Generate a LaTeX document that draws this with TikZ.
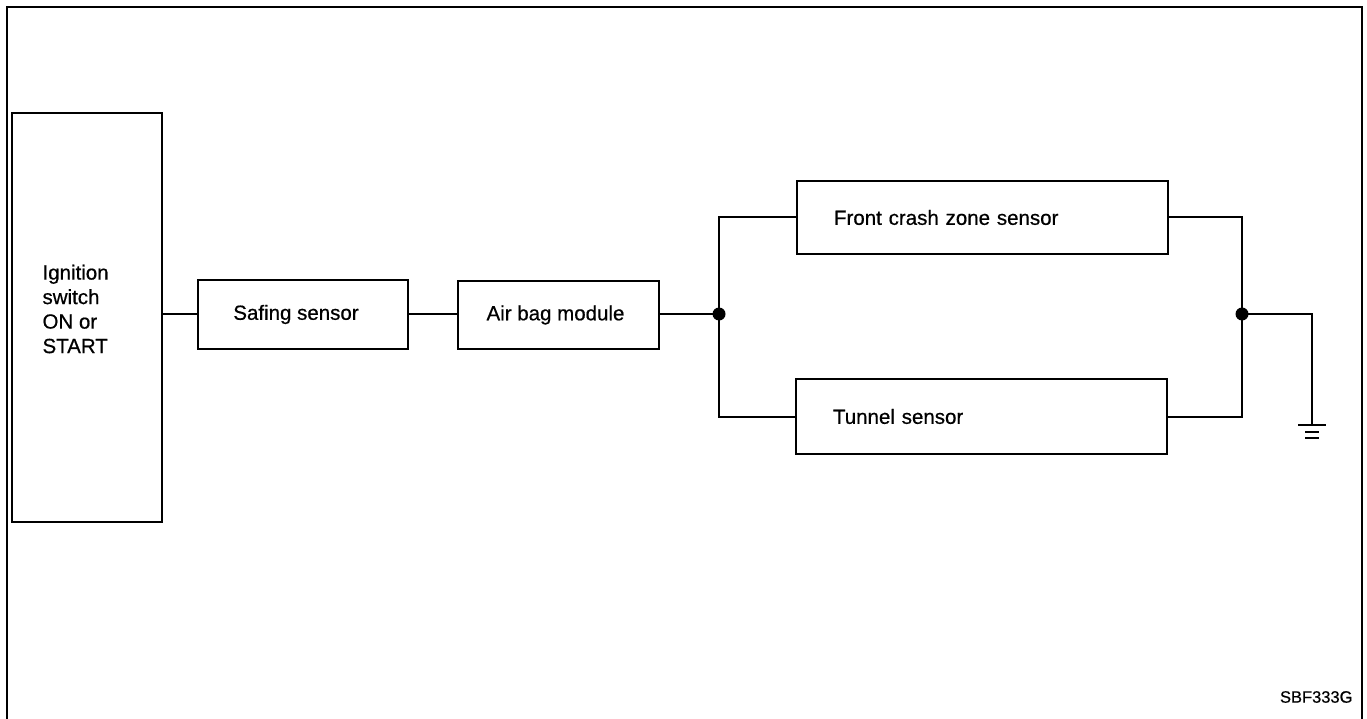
\documentclass[tikz,border=0pt]{standalone}
\usepackage{fontspec}
\setmainfont{Liberation Sans}[BoldFont={Liberation Sans},BoldFeatures={FakeBold=0.6}]
\begin{document}
\begin{tikzpicture}[x=1pt,y=-1pt,
  wire/.style={line width=2pt},
  lab/.style={font=\fontsize{20.5}{24.5}\selectfont\bfseries},
  blk/.style={draw,line width=2pt,inner sep=0pt,anchor=north west,lab},
  wblk/.style={blk,inner xsep=37pt,text width=297pt,align=left},
  dot/.style={circle,fill=black,inner sep=0pt,minimum size=13pt}]
\useasboundingbox (0,0) rectangle (1367,719);
% frame (open at bottom)
\draw[line width=2.2pt] (7,725) -- (7,7) -- (1362,7) -- (1362,725);
% blocks
\node[blk,minimum width=150pt,minimum height=409pt] (ign) at (11,112) {};
\node[lab,align=left,anchor=west] (igntext) at (39,309)
  {Ignition\\switch\\ON or\\START};
\node[blk,minimum width=210pt,minimum height=69pt] (saf) at (197,279) {\hspace*{-14pt}Safing sensor};
\node[blk,minimum width=201pt,minimum height=68pt] (air) at (457,280) {\hspace*{-6pt}Air bag module};
\node[wblk,minimum height=73pt] (front) at (796,180) {Front crash zone sensor};
\node[wblk,minimum height=75pt] (tun) at (795,378) {Tunnel sensor};
\node[dot] (j1) at (719,314) {};
\node[dot] (j2) at (1242,314) {};
\coordinate (g) at (1312,425);
% wires
\draw[wire] (ign.east |- j1) -- (saf.west |- j1);
\draw[wire] (saf.east |- j1) -- (air.west |- j1);
\draw[wire] (air.east |- j1) -- (j1.center);
\draw[wire] (front.west) -| (j1.center) |- (tun.west);
\draw[wire] (front.east) -| (j2.center) |- (tun.east);
\draw[wire] (j2.center) -| (g);
% ground symbol
\draw[line width=1.6pt] (1298,425) -- (1326,425);
\draw[line width=1.4pt] (1305,432) -- (1319,432);
\draw[line width=1.4pt] (1305,438) -- (1319,438);
% code
\node[font=\fontsize{16.5}{18}\selectfont\bfseries,anchor=east] (code) at (1356,697) {SBF333G};
\end{tikzpicture}
\end{document}
